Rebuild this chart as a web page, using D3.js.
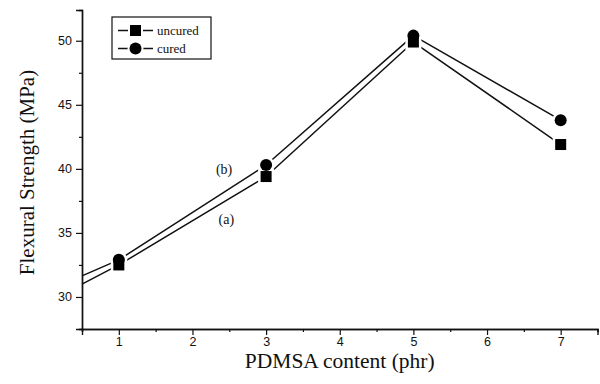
<!DOCTYPE html>
<html>
<head>
<meta charset="utf-8">
<script src="https://cdn.jsdelivr.net/npm/d3@7"></script>
<style>
  body { margin: 0; background: #fff; }
  svg { display: block; }
</style>
</head>
<body>
<svg id="chart" width="600" height="384"></svg>
<script>
// data
const content = [1, 3, 5, 7];
const uncured = [32.5, 39.4, 49.9, 41.9];
const cured = [32.9, 40.3, 50.4, 43.8];
// where each line enters at the left edge of the axis
const lineStart = { x: 0.5, uncured: 31.0, cured: 31.65 };
const xTicks = [1, 2, 3, 4, 5, 6, 7];
const yTicks = [30, 35, 40, 45, 50];
const curveLabels = [
  { text: "(b)", x: 2.43, y: 39.6 },
  { text: "(a)", x: 2.46, y: 35.7 }
];

const svg = d3.select("#chart");
const serif = "'Liberation Serif', 'Times New Roman', serif";
const sans = "'Liberation Sans', Arial, sans-serif";

const x = d3.scaleLinear().domain([0.5, 7.5]).range([82, 597.5]);
const y = d3.scaleLinear().domain([27.5, 52.4]).range([329, 10]);

// axes
const xAxis = d3.axisBottom(x).tickValues(xTicks).tickSize(6).tickPadding(2).tickFormat(d3.format("d"));
const xMinor = d3.axisBottom(x).tickValues(d3.range(0.5, 7.6, 1)).tickSize(3).tickFormat("");
const yAxis = d3.axisLeft(y).tickValues(yTicks).tickSize(6).tickPadding(4).tickFormat(d3.format("d"));
const yMinor = d3.axisLeft(y).tickValues([27.5, 32.5, 37.5, 42.5, 47.5]).tickSize(3).tickFormat("");

function styleAxis(g) {
  g.select(".domain").attr("stroke", "#111").attr("stroke-width", 1.4);
  g.selectAll(".tick line").attr("stroke", "#111").attr("stroke-width", 1.2);
  g.selectAll(".tick text").attr("font-family", sans).attr("font-size", 12.5).attr("fill", "#111");
}

svg.append("g").attr("transform", `translate(0,${y(27.5)})`).call(xMinor).call(styleAxis);
svg.append("g").attr("transform", `translate(0,${y(27.5)})`).call(xAxis).call(styleAxis);
svg.append("g").attr("transform", `translate(${x(0.5)},0)`).call(yMinor).call(styleAxis);
svg.append("g").attr("transform", `translate(${x(0.5)},0)`).call(yAxis).call(styleAxis);

// axis titles
svg.append("text")
  .attr("x", (x.range()[0] + x.range()[1]) / 2)
  .attr("y", 368)
  .attr("text-anchor", "middle")
  .attr("font-family", serif)
  .attr("font-size", 21.5)
  .attr("fill", "#111")
  .text("PDMSA content (phr)");

svg.append("text")
  .attr("transform", `translate(34,${(y.range()[0] + y.range()[1]) / 2 + 3}) rotate(-90)`)
  .attr("text-anchor", "middle")
  .attr("font-family", serif)
  .attr("font-size", 21)
  .attr("fill", "#111")
  .text("Flexural Strength (MPa)");

// lines
const series = [
  { name: "uncured", values: uncured, start: lineStart.uncured, shape: "square" },
  { name: "cured", values: cured, start: lineStart.cured, shape: "circle" }
];

const line = d3.line()
  .x(d => x(d[0]))
  .y(d => y(d[1]));

series.forEach(s => {
  const pts = [[lineStart.x, s.start]].concat(content.map((c, i) => [c, s.values[i]]));
  svg.append("path")
    .datum(pts)
    .attr("fill", "none")
    .attr("stroke", "#111")
    .attr("stroke-width", 1.5)
    .attr("stroke-linejoin", "round")
    .attr("d", line);
});

function drawMarker(g, shape, cx, cy, fill, stroke, sw) {
  if (shape === "square") {
    g.append("rect")
      .attr("x", cx - 5.5).attr("y", cy - 5.5)
      .attr("width", 11).attr("height", 11)
      .attr("fill", fill).attr("stroke", stroke).attr("stroke-width", sw);
  } else {
    g.append("circle")
      .attr("cx", cx).attr("cy", cy).attr("r", 6)
      .attr("fill", fill).attr("stroke", stroke).attr("stroke-width", sw);
  }
}

// white halos first so the line stops short of each symbol
const halos = svg.append("g");
const marks = svg.append("g");
series.forEach(s => {
  content.forEach((c, i) => drawMarker(halos, s.shape, x(c), y(s.values[i]), "#fff", "#fff", 5));
});
series.forEach(s => {
  content.forEach((c, i) => drawMarker(marks, s.shape, x(c), y(s.values[i]), "#000", "none", 0));
});

// curve labels
svg.selectAll(".curve-label")
  .data(curveLabels)
  .join("text")
  .attr("class", "curve-label")
  .attr("x", d => x(d.x))
  .attr("y", d => y(d.y))
  .attr("text-anchor", "middle")
  .attr("font-family", serif)
  .attr("font-size", 14)
  .attr("fill", "#111")
  .text(d => d.text);

// legend
const legend = svg.append("g").attr("transform", "translate(112,17)");
legend.append("rect")
  .attr("width", 99).attr("height", 42)
  .attr("fill", "#fff").attr("stroke", "#111").attr("stroke-width", 1.2);

series.forEach((s, i) => {
  const ly = 13.5 + i * 18;
  const row = legend.append("g");
  row.append("line")
    .attr("x1", 6).attr("x2", 41).attr("y1", ly).attr("y2", ly)
    .attr("stroke", "#111").attr("stroke-width", 1.5);
  drawMarker(row, s.shape, 23.5, ly, "#fff", "#fff", 4);
  drawMarker(row, s.shape, 23.5, ly, "#000", "none", 0);
  row.append("text")
    .attr("x", 45).attr("y", ly + 4)
    .attr("font-family", serif)
    .attr("font-size", 13)
    .attr("fill", "#111")
    .text(s.name);
});
</script>
</body>
</html>
